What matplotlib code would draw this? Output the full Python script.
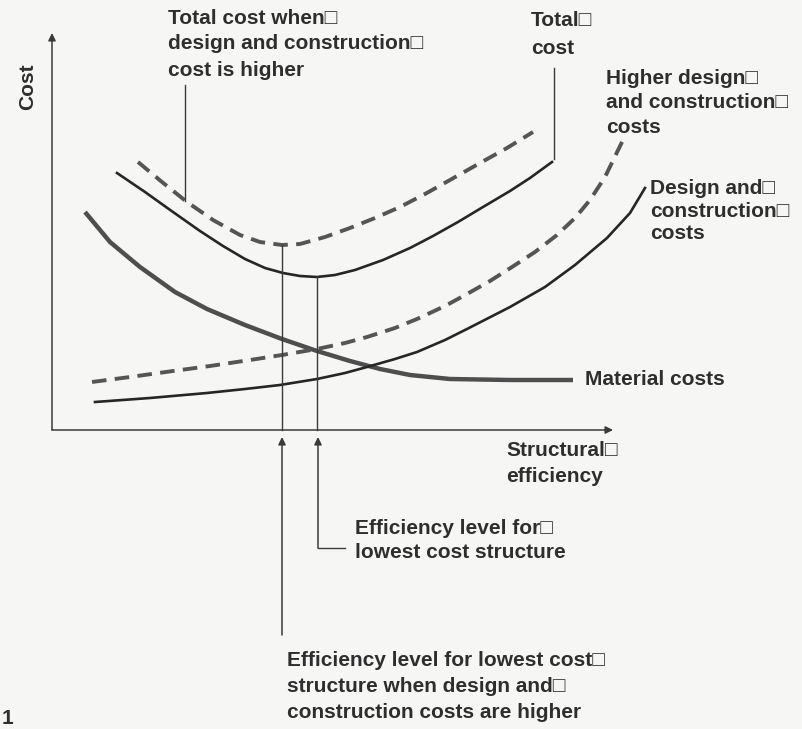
import matplotlib
matplotlib.use("Agg")
import matplotlib.pyplot as plt

# Schematic: structural efficiency (x) against cost (y), arbitrary units
# origin sits at the corner of the two drawn axes

material_eff = [33, 58, 88, 123, 155, 193, 230, 265, 298, 328, 358, 398, 458, 521]
material_cost = [218, 188, 163, 138, 121, 105, 91, 79, 69, 61, 55, 51, 50, 50]

design_eff = [43, 98, 155, 193, 228, 265, 293, 315, 343, 365, 393, 415, 458, 493, 523, 555, 578, 593]
design_cost = [28, 32, 37, 41, 45, 51, 57, 63, 71, 78, 90, 101, 123, 143, 165, 192, 217, 242]

design_hi_eff = [40, 78, 121, 158, 198, 230, 265, 293, 315, 343, 365, 393, 415, 438, 460, 483,
                 505, 523, 538, 553, 571]
design_hi_cost = [48, 53, 59, 64, 70, 75, 81, 87, 93, 102, 111, 124, 136, 149, 163, 178,
                  195, 212, 230, 253, 290]

total_eff = [65, 93, 121, 148, 171, 193, 213, 231, 248, 265, 283, 303, 331, 358, 381, 406, 431, 458, 478, 500]
total_cost = [257, 238, 218, 199, 184, 171, 162, 157, 154, 153, 155, 160, 170, 182, 194, 208, 223, 239, 252, 268]

total_hi_eff = [86, 110, 135, 161, 188, 208, 230, 248, 273, 298, 323, 348, 373, 398, 428, 455, 481]
total_hi_cost = [268, 248, 228, 210, 195, 188, 185, 186, 193, 202, 212, 223, 236, 250, 267, 282, 298]

opt_eff = 265      # lowest cost structure
opt_hi_eff = 230   # lowest cost when design and construction costs are higher

plt.rcParams['font.family'] = ['Liberation Sans', 'DejaVu Sans']
plt.rcParams['lines.scale_dashes'] = False

bg = '#f6f7f5'
ink = '#2e2e2e'
fig = plt.figure(figsize=(8.02, 7.29), dpi=100, facecolor=bg)
ax = fig.add_axes([0, 0, 1, 1])
ax.set_facecolor(bg)
ax.set_xlim(-52, 750)
ax.set_ylim(-299, 430)
ax.axis('off')

dash = (0, (10.5, 6))
ax.plot(material_eff, material_cost, color='#4e4e4e', lw=3.2, solid_capstyle='butt', solid_joinstyle='round')
ax.plot(design_eff, design_cost, color='#262626', lw=1.9, solid_joinstyle='round')
ax.plot(total_eff, total_cost, color='#262626', lw=1.9, solid_joinstyle='round')
ax.plot(design_hi_eff, design_hi_cost, color='#555555', lw=2.8, linestyle=dash)
ax.plot(total_hi_eff, total_hi_cost, color='#555555', lw=2.8, linestyle=dash)

# axes with arrow heads
arrow = dict(arrowstyle='-|>', color='#3a3a3a', lw=1.1, mutation_scale=11, shrinkA=0, shrinkB=0)
ax.annotate('', xy=(0, 397), xytext=(0, 0), arrowprops=arrow)
ax.annotate('', xy=(561, 0), xytext=(0, 0), arrowprops=arrow)

# vertical markers from the minima
thin = dict(color='#3a3a3a', lw=1.0)
ax.plot([opt_hi_eff, opt_hi_eff], [min(total_hi_cost), 0], **thin)
ax.plot([opt_eff, opt_eff], [min(total_cost), 0], **thin)

# leader lines
ax.plot([133, 133], [345, 229], **thin)
ax.plot([502, 502], [362, 271], **thin)
ax.annotate('', xy=(opt_hi_eff, -7), xytext=(opt_hi_eff, -205), arrowprops=arrow)
ax.annotate('', xy=(opt_eff + 1, -7), xytext=(opt_eff + 1, -118), arrowprops=arrow)
ax.plot([opt_eff + 1, 293], [-118, -118], **thin)


def label(x, ys, lines):
    for y, s in zip(ys, lines):
        ax.text(x, y, s, ha='left', va='center', fontsize=15, fontweight='bold', color=ink)


label(116, [412, 387, 360], ['Total cost when□', 'design and construction□', 'cost is higher'])
label(479, [410, 382], ['Total□', 'cost'])
label(554, [352, 328, 303], ['Higher design□', 'and construction□', 'costs'])
label(598, [242, 219, 197], ['Design and□', 'construction□', 'costs'])
label(533, [51], ['Material costs'])
label(454, [-20, -46], ['Structural□', 'efficiency'])
label(303, [-98, -122], ['Efficiency level for□', 'lowest cost structure'])
label(235, [-230, -257, -282], ['Efficiency level for lowest cost□',
                                 'structure when design and□',
                                 'construction costs are higher'])
label(-50, [-288], ['1'])
ax.text(-24, 343, 'Cost', rotation=90, ha='center', va='center',
        fontsize=15, fontweight='bold', color=ink)

fig.savefig('out.png', dpi=100, facecolor=bg)
